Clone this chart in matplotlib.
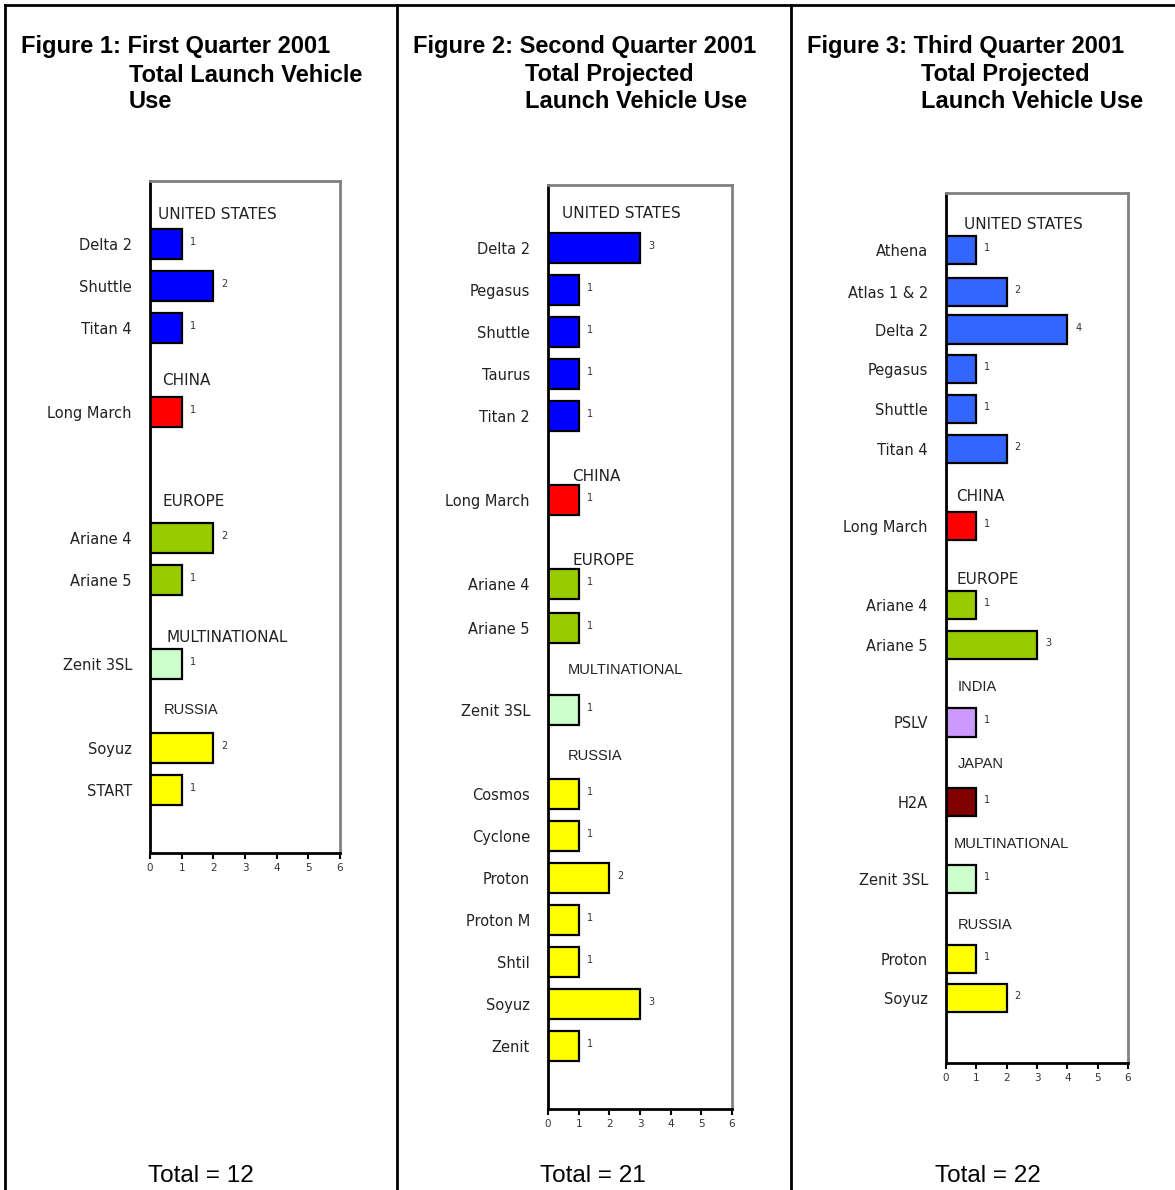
import matplotlib
matplotlib.use('Agg')
import matplotlib.pyplot as plt
from matplotlib.lines import Line2D

# ---- data ----
p1_vehicles = ['Delta 2', 'Shuttle', 'Titan 4', 'Long March', 'Ariane 4', 'Ariane 5', 'Zenit 3SL', 'Soyuz', 'START']
p1_counts = [1, 2, 1, 1, 2, 1, 1, 2, 1]
p1_groups = ['UNITED STATES', 'UNITED STATES', 'UNITED STATES', 'CHINA', 'EUROPE', 'EUROPE',
             'MULTINATIONAL', 'RUSSIA', 'RUSSIA']

p2_vehicles = ['Delta 2', 'Pegasus', 'Shuttle', 'Taurus', 'Titan 2', 'Long March', 'Ariane 4', 'Ariane 5',
               'Zenit 3SL', 'Cosmos', 'Cyclone', 'Proton', 'Proton M', 'Shtil', 'Soyuz', 'Zenit']
p2_counts = [3, 1, 1, 1, 1, 1, 1, 1, 1, 1, 1, 2, 1, 1, 3, 1]
p2_groups = ['UNITED STATES'] * 5 + ['CHINA'] + ['EUROPE'] * 2 + ['MULTINATIONAL'] + ['RUSSIA'] * 7

p3_vehicles = ['Athena', 'Atlas 1 & 2', 'Delta 2', 'Pegasus', 'Shuttle', 'Titan 4', 'Long March',
               'Ariane 4', 'Ariane 5', 'PSLV', 'H2A', 'Zenit 3SL', 'Proton', 'Soyuz']
p3_counts = [1, 2, 4, 1, 1, 2, 1, 1, 3, 1, 1, 1, 1, 2]
p3_groups = ['UNITED STATES'] * 6 + ['CHINA'] + ['EUROPE'] * 2 + ['INDIA', 'JAPAN', 'MULTINATIONAL'] + ['RUSSIA'] * 2

titles = [('Figure 1: First Quarter 2001', 'Total Launch Vehicle', 'Use'),
          ('Figure 2: Second Quarter 2001', 'Total Projected', 'Launch Vehicle Use'),
          ('Figure 3: Third Quarter 2001', 'Total Projected', 'Launch Vehicle Use')]
totals = [12, 21, 22]

# ---- layout / style ----
W, H = 1175, 1190
colors = {'UNITED STATES': '#0000FF', 'CHINA': '#FF0000', 'EUROPE': '#99CC00', 'MULTINATIONAL': '#CCFFCC',
          'RUSSIA': '#FFFF00', 'INDIA': '#CC99FF', 'JAPAN': '#800000'}

panels = [
    dict(veh=p1_vehicles, cnt=p1_counts, grp=p1_groups,
         rows=[0, 1, 2, 4, 7, 8, 10, 12, 13], ylim=(14.5, -1.5),
         box=(150, 181, 340, 853), heads=[-0.71, 3.24, 6.14, 9.38, 11.1],
         head_dx=[8, 12, 12, 16, 14], tracked=[1, 1, 1, 1, 0], us='#0000FF',
         tx=(21, 129), mid=201),
    dict(veh=p2_vehicles, cnt=p2_counts, grp=p2_groups,
         rows=[0, 1, 2, 3, 4, 6, 8, 9.05, 11, 13, 14, 15, 16, 17, 18, 19], ylim=(20.5, -1.5),
         box=(548, 185, 732, 1109), heads=[-0.81, 5.43, 7.43, 10.05, 12.1],
         head_dx=[14, 24, 24, 20, 20], tracked=[1, 1, 1, 0, 0], us='#0000FF',
         tx=(413, 525), mid=593),
    dict(veh=p3_vehicles, cnt=p3_counts, grp=p3_groups,
         rows=[0, 1.05, 2, 3, 4, 5, 6.95, 8.95, 9.95, 11.9, 13.9, 15.85, 17.85, 18.85], ylim=(20.48, -1.44),
         box=(946, 193, 1128, 1063), heads=[-0.65, 6.2, 8.3, 11.0, 12.95, 14.95, 17.0],
         head_dx=[18, 10, 10, 12, 12, 8, 12], tracked=[1, 1, 1, 0, 0, 0, 0], us='#3366FF',
         tx=(807, 921), mid=988),
]

fig = plt.figure(figsize=(W / 100, H / 100), dpi=100)

# panel frame lines
fig.add_artist(Line2D([5 / W, 1], [1 - 5 / H, 1 - 5 / H], color='black', lw=2))
for x in [5, 397, 791]:
    fig.add_artist(Line2D([x / W, x / W], [0, 1 - 5 / H], color='black', lw=2))

for i, p in enumerate(panels):
    x0, y0, x1, y1 = p['box']
    ax = fig.add_axes([x0 / W, 1 - y1 / H, (x1 - x0) / W, (y1 - y0) / H])
    cols = [p['us'] if g == 'UNITED STATES' else colors[g] for g in p['grp']]
    ax.barh(p['rows'], p['cnt'], height=0.71, color=cols, edgecolor='black', linewidth=1.6)
    for r, c in zip(p['rows'], p['cnt']):
        ax.annotate(str(c), xy=(c, r), xytext=(8, 2), textcoords='offset pixels',
                    fontsize=7, color='#333333', va='center', ha='left')
    ax.set_xlim(0, 6)
    ax.set_ylim(*p['ylim'])
    ax.set_xticks(range(7))
    ax.tick_params(axis='x', labelsize=7.5, length=4, width=1.5, colors='black', labelcolor='#333333')
    ax.set_yticks(p['rows'])
    ax.set_yticklabels(p['veh'], fontsize=10.5, color='#222222')
    ax.tick_params(axis='y', length=0, pad=13)
    for lab in ax.get_yticklabels():
        lab.set_fontfamily('DejaVu Sans')
    ax.spines['left'].set_linewidth(2)
    ax.spines['bottom'].set_linewidth(2)
    ax.spines['top'].set_color('#808080')
    ax.spines['right'].set_color('#808080')
    ax.spines['top'].set_linewidth(2)
    ax.spines['right'].set_linewidth(2)

    # group headers
    seen = []
    for g in p['grp']:
        if g not in seen:
            seen.append(g)
    for g, hy, dx, tr in zip(seen, p['heads'], p['head_dx'], p['tracked']):
        ax.annotate(g, xy=(0, hy), xycoords=('axes fraction', 'data'), xytext=(dx, 0),
                    textcoords='offset pixels', va='center', ha='left', color='#222222',
                    fontsize=11 if tr else 10.5,
                    family='DejaVu Sans' if tr else 'Liberation Sans')

    # titles
    t = titles[i]
    for k, (tx, ty) in enumerate([(p['tx'][0], 47), (p['tx'][1], 75), (p['tx'][1], 101)]):
        fig.text(tx / W, 1 - ty / H, t[k], fontsize=17, fontweight='bold',
                 family='Liberation Sans', va='center', ha='left')
    fig.text(p['mid'] / W, 1 - 1176 / H, 'Total = %d' % totals[i], fontsize=17.5,
             family='Liberation Sans', va='center', ha='center')

plt.savefig('out.png', dpi=100)
